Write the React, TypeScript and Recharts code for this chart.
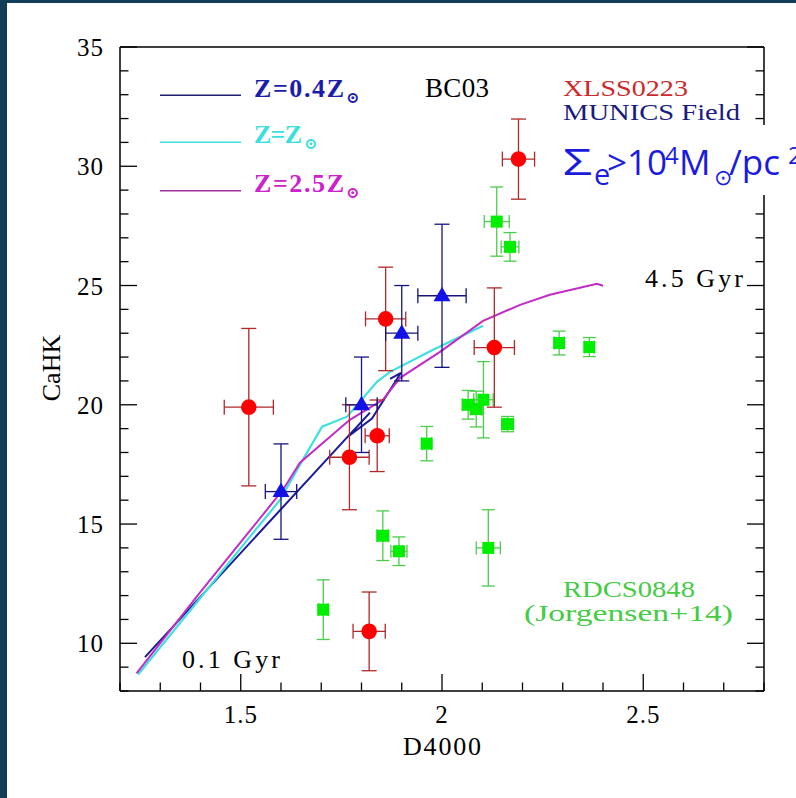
import React from "react";
import { ComposedChart, XAxis, YAxis, Line, Scatter, ErrorBar } from "recharts";

// axis ticks
const X_MAJOR = [1.5, 2, 2.5];
const X_TICKS = [1.2, 1.3, 1.4, 1.5, 1.6, 1.7, 1.8, 1.9, 2, 2.1, 2.2, 2.3, 2.4, 2.5, 2.6, 2.7, 2.8];
const Y_MAJOR = [10, 15, 20, 25, 30, 35];
const Y_TICKS = [8, 9, 10, 11, 12, 13, 14, 15, 16, 17, 18, 19, 20, 21, 22, 23, 24, 25, 26, 27, 28, 29, 30, 31, 32, 33, 34, 35];

// BC03 model tracks (D4000, CaHK)
const trackLow = [
  { x: 1.262, y: 9.42 },
  { x: 1.759, y: 18.54 },
  { x: 1.821, y: 19.67 },
  { x: 1.766, y: 18.66 },
  { x: 1.826, y: 19.42 },
  { x: 1.898, y: 21.34 },
  { x: 1.871, y: 21.09 },
];
const trackSolar = [
  { x: 1.245, y: 8.69 },
  { x: 1.399, y: 11.89 },
  { x: 1.523, y: 14.47 },
  { x: 1.598, y: 16.02 },
  { x: 1.64, y: 17.28 },
  { x: 1.702, y: 19.08 },
  { x: 1.764, y: 19.5 },
  { x: 1.839, y: 20.97 },
  { x: 1.871, y: 21.38 },
  { x: 1.978, y: 22.31 },
  { x: 2.102, y: 23.31 },
];
const trackHigh = [
  { x: 1.241, y: 8.74 },
  { x: 1.399, y: 12.13 },
  { x: 1.523, y: 14.72 },
  { x: 1.605, y: 16.44 },
  { x: 1.647, y: 17.57 },
  { x: 1.771, y: 19.37 },
  { x: 1.853, y: 20.21 },
  { x: 1.896, y: 21.13 },
  { x: 1.995, y: 22.22 },
  { x: 2.102, y: 23.52 },
  { x: 2.194, y: 24.19 },
  { x: 2.268, y: 24.61 },
  { x: 2.385, y: 25.07 },
  { x: 2.4, y: 24.99 },
];

// XLSS0223
const xlss = [
  { x: 1.52, y: 19.9, ex: 0.061, ey: 3.3 },
  { x: 1.86, y: 23.6, ex: 0.05, ey: 2.17 },
  { x: 1.77, y: 17.8, ex: 0.049, ey: 2.2 },
  { x: 1.839, y: 18.7, ex: 0.03, ey: 1.5 },
  { x: 2.13, y: 22.4, ex: 0.05, ey: 2.5 },
  { x: 2.19, y: 30.3, ex: 0.04, ey: 1.68 },
  { x: 1.819, y: 10.5, ex: 0.04, ey: 1.65 },
];

// MUNICS field
const munics = [
  { x: 1.6, y: 16.36, ex: 0.039, ey: 2.0 },
  { x: 1.8, y: 20.0, ex: 0.039, ey: 2.0 },
  { x: 1.9, y: 23.0, ex: 0.04, ey: 2.0 },
  { x: 2.0, y: 24.57, ex: 0.06, ey: 3.0 },
];

// RDCS0848 (Jorgensen+14)
const rdcs = [
  { x: 2.136, y: 27.68, ex: 0.031, ey: 1.45 },
  { x: 2.169, y: 26.62, ex: 0.022, ey: 0.6 },
  { x: 2.291, y: 22.59, ex: 0.012, ey: 0.5 },
  { x: 2.366, y: 22.42, ex: 0.012, ey: 0.4 },
  { x: 2.065, y: 20.0, ex: 0.015, ey: 0.6 },
  { x: 2.085, y: 19.82, ex: 0.015, ey: 0.75 },
  { x: 2.103, y: 20.21, ex: 0.024, ey: 1.6 },
  { x: 2.163, y: 19.19, ex: 0.015, ey: 0.32 },
  { x: 1.962, y: 18.37, ex: 0.012, ey: 0.72 },
  { x: 1.853, y: 14.51, ex: 0.015, ey: 1.04 },
  { x: 1.893, y: 13.86, ex: 0.02, ey: 0.6 },
  { x: 1.705, y: 11.41, ex: 0.012, ey: 1.25 },
  { x: 2.115, y: 14.0, ex: 0.03, ey: 1.6 },
];

const SERIF = "'Liberation Serif', 'DejaVu Serif', serif";
const MAJOR_LEN = 17;
const MINOR_LEN = 8.5;

const isMajor = (v: number, majors: number[]) => majors.some((m) => Math.abs(m - v) < 1e-6);

const BottomTick = (p: any) => {
  const major = isMajor(p.payload.value, X_MAJOR);
  return (
    <g>
      <line x1={p.x} y1={p.y} x2={p.x} y2={p.y - (major ? MAJOR_LEN : MINOR_LEN)} stroke="#000" strokeWidth={1.3} />
      {major && (
        <text x={p.x} y={p.y + 32} textAnchor="middle" fontFamily={SERIF} fontSize={25} letterSpacing={1} fill="#000">
          {String(p.payload.value)}
        </text>
      )}
    </g>
  );
};

const TopTick = (p: any) => {
  const major = isMajor(p.payload.value, X_MAJOR);
  return <line x1={p.x} y1={p.y} x2={p.x} y2={p.y + (major ? MAJOR_LEN : MINOR_LEN)} stroke="#000" strokeWidth={1.3} />;
};

const LeftTick = (p: any) => {
  const major = isMajor(p.payload.value, Y_MAJOR);
  return (
    <g>
      <line x1={p.x} y1={p.y} x2={p.x + (major ? MAJOR_LEN : MINOR_LEN)} y2={p.y} stroke="#000" strokeWidth={1.3} />
      {major && (
        <text x={p.x - 16} y={p.y + 9} textAnchor="end" fontFamily={SERIF} fontSize={25} letterSpacing={1} fill="#000">
          {String(p.payload.value)}
        </text>
      )}
    </g>
  );
};

const RightTick = (p: any) => {
  const major = isMajor(p.payload.value, Y_MAJOR);
  return <line x1={p.x} y1={p.y} x2={p.x - (major ? MAJOR_LEN : MINOR_LEN)} y2={p.y} stroke="#000" strokeWidth={1.3} />;
};

const RedDot = (p: any) => <circle cx={p.cx} cy={p.cy} r={7.8} fill="#ff0000" />;
const BlueTri = (p: any) => (
  <polygon
    points={`${p.cx},${p.cy - 9} ${p.cx - 8.5},${p.cy + 5.5} ${p.cx + 8.5},${p.cy + 5.5}`}
    fill="#1212e6"
  />
);
const GreenSq = (p: any) => <rect x={p.cx - 6} y={p.cy - 6} width={12} height={12} fill="#00ee00" />;

const axisLine = { stroke: "#000", strokeWidth: 1.5 };

export default function App() {
  return (
    <div style={{ position: "absolute", left: 0, top: 0, width: 796, height: 798, background: "#113d56", overflow: "hidden" }}>
      <div style={{ position: "absolute", left: 7, top: 3, right: 0, bottom: 0, background: "#fff" }} />
      <div style={{ position: "absolute", left: 0, top: 0 }}>
        <ComposedChart width={796} height={798} margin={{ top: 46, right: 31, bottom: 106, left: 119 }}>
          <XAxis
            dataKey="x"
            type="number"
            domain={[1.2, 2.8]}
            ticks={X_TICKS}
            interval={0}
            height={1}
            tickSize={0}
            tickMargin={0}
            tickLine={false}
            tick={BottomTick}
            axisLine={axisLine}
            allowDataOverflow
          />
          <XAxis
            xAxisId="top"
            orientation="top"
            type="number"
            domain={[1.2, 2.8]}
            ticks={X_TICKS}
            interval={0}
            height={1}
            tickSize={0}
            tickMargin={0}
            tickLine={false}
            tick={TopTick}
            axisLine={axisLine}
            allowDataOverflow
          />
          <YAxis
            dataKey="y"
            type="number"
            domain={[8, 35]}
            ticks={Y_TICKS}
            interval={0}
            width={1}
            tickSize={0}
            tickMargin={0}
            tickLine={false}
            tick={LeftTick}
            axisLine={axisLine}
            allowDataOverflow
          />
          <YAxis
            yAxisId="right"
            orientation="right"
            type="number"
            domain={[8, 35]}
            ticks={Y_TICKS}
            interval={0}
            width={1}
            tickSize={0}
            tickMargin={0}
            tickLine={false}
            tick={RightTick}
            axisLine={axisLine}
            allowDataOverflow
          />

          <Line data={trackLow} dataKey="y" type="linear" stroke="#1a1a96" strokeWidth={2} dot={false} isAnimationActive={false} />
          <Line data={trackSolar} dataKey="y" type="linear" stroke="#3fe0e0" strokeWidth={2.2} dot={false} isAnimationActive={false} />
          <Line data={trackHigh} dataKey="y" type="linear" stroke="#c22cc4" strokeWidth={2} dot={false} isAnimationActive={false} />

          <Scatter data={rdcs} dataKey="y" shape={GreenSq} isAnimationActive={false}>
            <ErrorBar dataKey="ey" direction="y" width={6.5} stroke="#4ccc4c" strokeWidth={1.3} />
            <ErrorBar dataKey="ex" direction="x" width={6.5} stroke="#4ccc4c" strokeWidth={1.3} />
          </Scatter>
          <Scatter data={xlss} dataKey="y" shape={RedDot} isAnimationActive={false}>
            <ErrorBar dataKey="ey" direction="y" width={7.5} stroke="#b02828" strokeWidth={1.3} />
            <ErrorBar dataKey="ex" direction="x" width={7.5} stroke="#b02828" strokeWidth={1.3} />
          </Scatter>
          <Scatter data={munics} dataKey="y" shape={BlueTri} isAnimationActive={false}>
            <ErrorBar dataKey="ey" direction="y" width={7.5} stroke="#14147e" strokeWidth={1.3} />
            <ErrorBar dataKey="ex" direction="x" width={7.5} stroke="#14147e" strokeWidth={1.3} />
          </Scatter>
        </ComposedChart>
      </div>

      <svg width={796} height={798} style={{ position: "absolute", left: 0, top: 0, pointerEvents: "none" }}>
        {/* legend */}
        <line x1={160} y1={95.3} x2={241} y2={95.3} stroke="#20206e" strokeWidth={1.6} />
        <line x1={160} y1={142.3} x2={241} y2={142.3} stroke="#40e0e0" strokeWidth={1.6} />
        <line x1={160} y1={190.7} x2={241} y2={190.7} stroke="#a0309f" strokeWidth={1.6} />
        <text x={254} y={97} fontFamily={SERIF} fontSize={26} fontWeight="bold" fill="#1c1cab">
          <tspan textLength={90} lengthAdjust="spacing">Z=0.4Z</tspan>
          <tspan x={346} y={103} fontSize={16}>⊙</tspan>
        </text>
        <text x={254} y={143} fontFamily={SERIF} fontSize={26} fontWeight="bold" fill="#3ddede">
          <tspan textLength={48} lengthAdjust="spacing">Z=Z</tspan>
          <tspan x={304} y={149} fontSize={16}>⊙</tspan>
        </text>
        <text x={254} y={192} fontFamily={SERIF} fontSize={26} fontWeight="bold" fill="#cc22cc">
          <tspan textLength={90} lengthAdjust="spacing">Z=2.5Z</tspan>
          <tspan x={346} y={198} fontSize={16}>⊙</tspan>
        </text>

        <text x={425} y={97} fontFamily={SERIF} fontSize={27} fill="#000" textLength={64} lengthAdjust="spacing">BC03</text>
        <text x={563} y={96} fontFamily={SERIF} fontSize={23} fill="#cc2a2a" textLength={125} lengthAdjust="spacingAndGlyphs">XLSS0223</text>
        <text x={563} y={120} fontFamily={SERIF} fontSize={23} fill="#1a1a80" textLength={177} lengthAdjust="spacingAndGlyphs">MUNICS Field</text>

        <text x={645} y={287} fontFamily={SERIF} fontSize={26} fill="#000" textLength={98} lengthAdjust="spacing">4.5 Gyr</text>
        <text x={182} y={668} fontFamily={SERIF} fontSize={26} fill="#000" textLength={98} lengthAdjust="spacing">0.1 Gyr</text>
        <text x={563} y={597} fontFamily={SERIF} fontSize={23} fill="#44cc44" textLength={132} lengthAdjust="spacingAndGlyphs">RDCS0848</text>
        <text x={524} y={621} fontFamily={SERIF} fontSize={23} fill="#44cc44" textLength={209} lengthAdjust="spacingAndGlyphs">(Jorgensen+14)</text>

        <text x={403} y={755} fontFamily={SERIF} fontSize={26} fill="#000" textLength={78} lengthAdjust="spacing">D4000</text>
        <text
          x={0}
          y={0}
          transform="translate(60,368) rotate(-90)"
          textAnchor="middle"
          fontFamily={SERIF}
          fontSize={26}
          fill="#000"
        >
          CaHK
        </text>

        {/* overlay box with density label */}
        <rect x={560} y={125} width={236} height={70} fill="#fff" />
        <text fontFamily="'Open Sans', 'Noto Sans', sans-serif" fill="#1b1be0">
          <tspan x={563} y={175} fontSize={37} textLength={29} lengthAdjust="spacingAndGlyphs">Σ</tspan>
          <tspan x={594} y={185} fontSize={29}>e</tspan>
          <tspan x={607} y={175} fontSize={35}>&gt;10</tspan>
          <tspan x={665} y={164} fontSize={24}>4</tspan>
          <tspan x={679} y={175} fontSize={35}>M</tspan>
          <tspan x={714} y={185} fontSize={22}>⊙</tspan>
          <tspan x={729} y={175} fontSize={35}>/pc</tspan>
          <tspan x={788} y={164} fontSize={24}>2</tspan>
        </text>
      </svg>
    </div>
  );
}
